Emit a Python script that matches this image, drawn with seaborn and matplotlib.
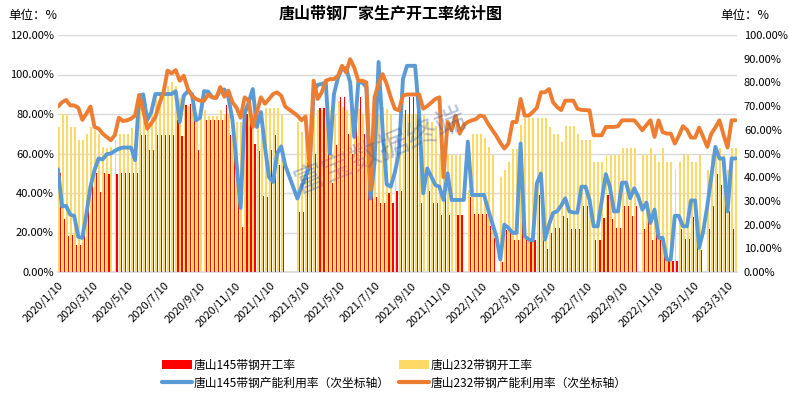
import matplotlib
matplotlib.use("Agg")
import numpy as np
import pandas as pd
import matplotlib.pyplot as plt
import matplotlib.dates as mdates
from matplotlib.ticker import FuncFormatter, MultipleLocator
from matplotlib.patches import Patch
from matplotlib.lines import Line2D
import seaborn as sns

N = np.nan

# ---------------- data ----------------
first_week = "2020-01-10"
n_weeks = 168

x_tick_labels = ["2020/1/10", "2020/3/10", "2020/5/10", "2020/7/10", "2020/9/10", "2020/11/10",
                 "2021/1/10", "2021/3/10", "2021/5/10", "2021/7/10", "2021/9/10", "2021/11/10",
                 "2022/1/10", "2022/3/10", "2022/5/10", "2022/7/10", "2022/9/10", "2022/11/10",
                 "2023/1/10", "2023/3/10"]

# 唐山145带钢开工率 (left axis, %)
red145 = [50, 27, 18, 18.5, 13.5, 13.5, 23, 41, 48, 50,
          40.7, 50, 49.6, 0, 49.6, 50, 50, 50, 50, 50,
          69.2, 69.2, 61.7, 61.7, 69.2, 69.2, 69.2, 69.2, 69.2, 76.8,
          68.7, 84.5, 85, 82, 61.7, 0, 76.8, 76.8, 76.8, 76.8,
          76.8, 84.8, 69.2, 61, 38.5, 22.8, 80, 76.8, 65, 61.3,
          38.5, 38.2, 62, 69.2, 54.2, 54.2, N, N, N, 30.3,
          30.3, 55, 77, 60, 83, 83, 65, 45, 64.3, 88.8,
          88.8, 70, 60, 88.8, 88.8, 70, 50, 39.9, 38, 35,
          35, 40, 35, 41, 41, 82, 88.5, 88.5, 88.5, 35,
          0, 41, 35, 35, 29, 41, 29, 0, 29, 29,
          N, 38, 29.4, 29.4, 29.4, 29.4, 23.3, 17, N, 5.2,
          21.3, 21.3, 16.2, 16.2, 61, 17, 15.7, 16.4, 39, 16,
          11.4, 19.8, 22.3, 22.3, 28.2, 27.3, 21.8, 21.8, 21.8, 33.2,
          33.2, 0, 16.4, 16.4, 27.3, 39, 27, 22.3, 22.3, 33.5,
          33.5, 28.2, 33.5, N, 21.8, 27.3, 16.4, 21.8, 16.4, 10.9,
          5.5, 5.5, 5.5, 21.8, 16.8, 16.8, 27.8, 27.8, 11.1, N,
          21.8, 33.2, 49.6, 44.1, 36, 30.7, 21.8, 44.1]

# 唐山232带钢开工率 (left axis, %)
yellow232 = [73.6, 80, 80, 73.6, 73.6, 66.8, 66.8, 69.9, 73.6, 72,
             69.9, 63.3, 63, 63.3, 66.7, 69.7, 69.7, 69.7, 73, 69.7,
             88, 88, 80, 85, 90, 90, 93, 94, 96, 94,
             88, 85, 84, 83, 80, 82, 82, 79, 79, 79,
             82, 80, 80, 79, 76, 76, 83, 83, 80, 78,
             76, 83, 83, 83, 83, 79.3, N, N, N, 76,
             70.9, 76, 80, 83, 82, 82, 75, 82, 80, 86.8,
             83.5, 82, 83.5, 80, 82.6, 80, 62, 37.4, 65, 80,
             83.5, 82.5, 80, 66.7, 76, 80, 80, 80, 80, 79.3,
             79.3, 76, 76, 74, 60, 60, 60, 59, 59, 59,
             N, 41.5, 70, 70, 70, 68, 63.4, 59.2, N, 48.3,
             51.6, 55.8, 62.5, 62.5, 74.4, 77.8, 77.8, 77.8, 77.8, 77.8,
             77.8, 73.4, 70, 70, 66, 73.7, 73.7, 73.7, 70, 66.7,
             66.7, 66.7, 55.5, 55.5, 55.5, 59.2, 59.2, 59.2, 59.2, 62.8,
             62.8, 62.8, 62.8, N, 59.2, 59.2, 62.8, 59.2, 55.5, 62.8,
             55.5, 55.5, 52, 55.5, 59.2, 59.2, 55.5, 55.5, 59.2, N,
             51.6, 59.2, 62.8, 62.8, 59.2, 51.6, 62.8, 62.8]

# 唐山145带钢产能利用率 (right axis, %)
blue145 = [43.3, 27.7, 27.9, 24.2, 23.7, 14.8, 14.4, 24.5, 36, 43,
           47.9, 47.5, 49.7, 50, 51.1, 52, 52.5, 52.5, 52.5, 47.2,
           74.4, 74.9, 64.2, 67.5, 75.1, 75.1, 75.1, 75.1, 75.1, 76.3,
           63.3, 74.4, 76.3, 75.1, 64, 65.1, 76.3, 76.1, 73.7, 73.5,
           76.8, 77, 73.7, 64, 45.8, 27, 66.8, 71.6, 77.2, 61.2,
           67.5, 52.8, 40, 38, 50, 53, 45, N, N, 31,
           36, 40, 45, 76, 79, 79.3, 80, 50, 75, 82,
           86, 86, 80, 57, 80, 80, 78, 31, 46, 88.6,
           60, 37, 36, 42, 50, 81.4, 87, 87, 87, 66.8,
           33.2, 43.7, 40.2, 36.7, 36, 30.4, 41.6, 30.4, 30.4, 30.4,
           30.4, 55, 32.5, 32.5, 32.5, 32.5, 26.3, 20.7, 15.1, 5.3,
           20, 18.6, 16.5, 16.5, 54.2, 15.1, 13.7, 13.4, 37.4, 41.6,
           13.7, 20, 24.9, 25.6, 28, 31.1, 25.6, 25.1, 25.1, 36,
           36, 30.4, 19.3, 19.3, 30, 41.3, 36, 25.6, 25.6, 37.7,
           37.7, 31.1, 35.3, 31.8, 26.3, 29.3, 20.7, 26.3, 14.4, 14.4,
           5.3, 5.3, 23.7, 23.7, 19.3, 19.3, 30.2, 30.2, 10.2, 17.2,
           27.7, 40.2, 52.8, 47.9, 47.9, 25.6, 47.9, 47.9]

# 唐山232带钢产能利用率 (right axis, %)
orange232 = [69.8, 71.6, 72.6, 70.3, 70.3, 69.3, 64.2, 66.8, 69.8, 61.2,
             60.5, 58.4, 57, 55.6, 57.7, 65.1, 63.7, 64, 64.7, 66,
             74.7, 68.2, 60.5, 62.8, 65.4, 71, 75.8, 85, 83.8, 85.2,
             80.7, 82.8, 77.2, 74.4, 73, 72.3, 72.3, 74.9, 73.7, 73.5,
             78, 74, 76.5, 71.6, 69.3, 65.1, 73.7, 72.3, 61.2, 67.5,
             73.7, 71, 73, 75.1, 75.8, 74.4, 69.8, N, N, 66,
             64, 65.6, 44.4, 80.7, 73, 75.8, 80.7, 81.4, 81.4, 82.8,
             87, 84.2, 89.8, 86.3, 80.7, 80.7, 80, 34.6, 73.7, 79.3,
             83.5, 79.3, 73.7, 68.9, 68.2, 74.4, 74.9, 74.9, 74.9, 74.9,
             68.9, 70, 71.5, 73, 73.7, 40, 63.3, 59.8, 66, 58.4,
             62, 63.3, 64, 64.5, 66, 65.6, 62.5, 60, 57.5, 54.5,
             52.1, 54.2, 63.3, 63.3, 73, 66, 66, 67.5, 69.3, 75.8,
             75.8, 77.2, 71.6, 69.6, 68.3, 72.3, 72.3, 72.3, 68.9, 68.4,
             68.3, 68.2, 57.7, 57.7, 57.7, 61.2, 61.2, 61.2, 61.5, 64,
             64, 64, 64, 62, 59.8, 62, 64, 57, 64, 59,
             58.4, 58.4, 54.2, 57.5, 61.5, 60, 56.7, 56.7, 60.9, 57,
             52.8, 58.4, 61, 64, 58, 52.5, 64, 64]

title = "唐山带钢厂家生产开工率统计图"
unit_text = "单位：%"
series_names = ["唐山145带钢开工率", "唐山232带钢开工率",
                "唐山145带钢产能利用率（次坐标轴）", "唐山232带钢产能利用率（次坐标轴）"]
watermark = "富宝数据终端"

# ---------------- style ----------------
sns.set_theme(style="white")
plt.rcParams['font.family'] = ['Noto Sans CJK SC', 'DejaVu Sans']
plt.rcParams['axes.unicode_minus'] = False
plt.rcParams['text.color'] = 'black'
plt.rcParams['xtick.color'] = 'black'
plt.rcParams['ytick.color'] = 'black'

C_RED = "#FF0000"
C_YEL = "#FFD966"
C_BLUE = "#5B9BD5"
C_ORG = "#ED7D31"
C_GRID = "#D9D9D9"

weeks = pd.date_range(first_week, periods=n_weeks, freq="7D")
xw = mdates.date2num(weeks.to_pydatetime())
df = pd.DataFrame({"x": xw, "r145": red145, "y232": yellow232,
                   "b145": blue145, "o232": orange232})

W, H = 789, 394
fig = plt.figure(figsize=(W / 100, H / 100), dpi=100)
fig.patch.set_facecolor("white")
ax = fig.add_axes([58 / W, 1 - 272 / H, (737 - 58) / W, (272 - 35) / H])
ax2 = ax.twinx()

# bars (left axis)
ax.bar(df["x"] + 1.2, df["y232"], width=3.4, color=C_YEL, edgecolor="none",
       linewidth=0, antialiased=False, zorder=2)
ax.bar(df["x"] + 3.9, df["r145"], width=2.0, color=C_RED, edgecolor="none",
       linewidth=0, antialiased=False, zorder=3)

# lines (secondary axis)
lb = df[["x", "b145"]].dropna()
lo = df[["x", "o232"]].dropna()
sns.lineplot(data=lb, x="x", y="b145", ax=ax2, color=C_BLUE, linewidth=2.8,
             estimator=None, legend=False, solid_joinstyle="round", solid_capstyle="round")
sns.lineplot(data=lo, x="x", y="o232", ax=ax2, color=C_ORG, linewidth=2.8,
             estimator=None, legend=False, solid_joinstyle="round", solid_capstyle="round")

# axes limits and ticks
ax.set_xlim(xw[0], xw[0] + 1171.3)
ax.set_ylim(0, 120)
ax2.set_ylim(0, 100)
ax.yaxis.set_major_locator(MultipleLocator(20))
ax2.yaxis.set_major_locator(MultipleLocator(10))
pct = FuncFormatter(lambda v, _: f"{v:.2f}%")
ax.yaxis.set_major_formatter(pct)
ax2.yaxis.set_major_formatter(pct)

tick_pos = mdates.date2num(pd.to_datetime(x_tick_labels, format="%Y/%m/%d").to_pydatetime())
ax.set_xticks(tick_pos)
ax.set_xticklabels(x_tick_labels, rotation=45, ha="right", rotation_mode="anchor", fontsize=8)
ax.tick_params(axis="x", length=4, color="#BFBFBF", width=0.8, pad=2, direction="out")
ax.tick_params(axis="y", length=0, labelsize=8, pad=3)
ax2.tick_params(axis="y", length=0, labelsize=8, pad=5)

ax.grid(axis="y", color=C_GRID, linewidth=1)
ax.grid(axis="x", visible=False)
ax2.grid(False)
ax.set_axisbelow(True)
for s in ["left", "right", "top"]:
    ax.spines[s].set_visible(False)
ax.spines["bottom"].set_color(C_GRID)
for s in ax2.spines.values():
    s.set_visible(False)
ax.set_xlabel("")
ax.set_ylabel("")
ax2.set_xlabel("")
ax2.set_ylabel("")

# texts
fig.text(391 / W, 1 - 14 / H, title, ha="center", va="center", fontsize=11.5, fontweight="bold")
fig.text(8 / W, 1 - 15 / H, unit_text, ha="left", va="center", fontsize=9)
fig.text(720 / W, 1 - 15 / H, unit_text, ha="left", va="center", fontsize=9)
fig.text(380 / W, 1 - 150 / H, watermark, ha="center", va="center", fontsize=22,
         rotation=22, color="#2F5597", alpha=0.35)

# legend
handles = [Patch(facecolor=C_RED, edgecolor="none"),
           Line2D([0], [0], color=C_BLUE, linewidth=3),
           Patch(facecolor=C_YEL, edgecolor="none"),
           Line2D([0], [0], color=C_ORG, linewidth=3)]
labels = [series_names[0], series_names[2], series_names[1], series_names[3]]
fig.legend(handles, labels, ncol=2, loc="center", bbox_to_anchor=(0.5, 1 - 374 / H),
           frameon=False, fontsize=8.5, handlelength=2.5, handleheight=0.75,
           handletextpad=0.15, columnspacing=0.8, labelspacing=0.4)

fig.savefig("out.png", dpi=100)
